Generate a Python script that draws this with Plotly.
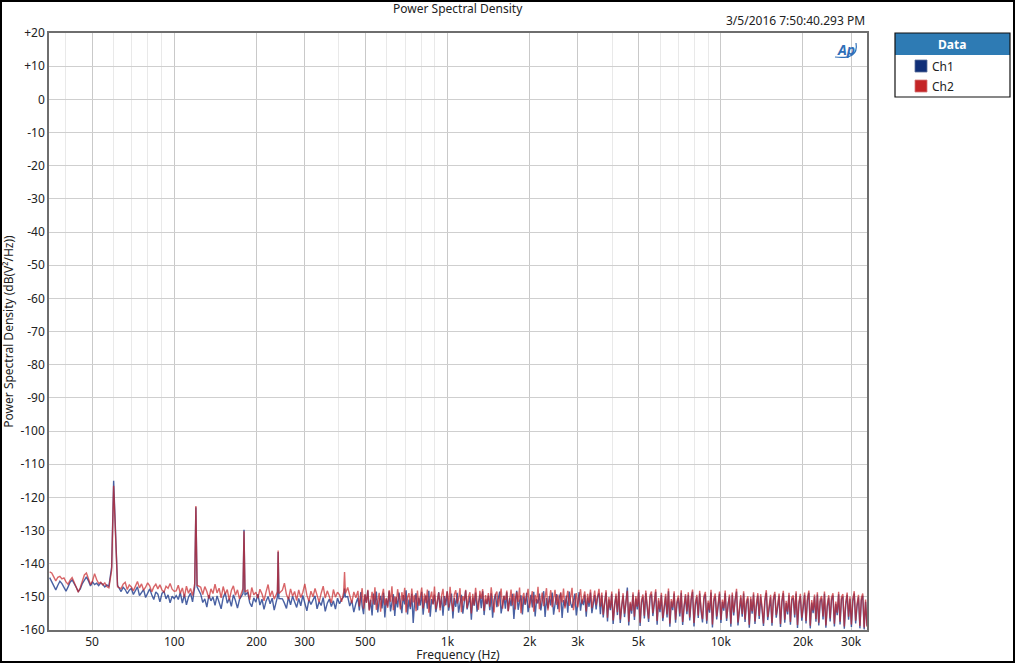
import numpy as np
import plotly.graph_objects as go

# ---------------- data ----------------
# sample grid: 2 px steps below ~470 Hz, denser above (as the trace gets denser)
f_start, f_split, f_stop = 35.0, 470.0, 34300.0
n_low, n_high = 151, 360

ch1_low = [
    # 35-58 Hz
    -144.2, -145.6, -146.8, -147.9, -146.5, -145.3, -146.0, -147.2, -148.3, -147.0,
    -145.6, -144.9, -145.8, -147.1, -148.4, -147.6, -146.0, -144.8, -144.0, -145.2,
    -146.7, -145.5, -146.3, -145.9, -146.6, -145.8, -146.2, -147.0, -146.4, -146.8,
    # 58-100 Hz
    -146.8, -147.2, -147.9, -147.0, -147.6, -148.4, -147.1, -147.8, -149.0, -148.0,
    -147.5, -149.3, -148.2, -147.0, -149.6, -148.6, -147.8, -150.2, -148.9, -147.6,
    -149.4, -150.8, -148.5, -149.2, -151.5, -149.0, -148.3, -150.6, -149.4, -151.8,
    -149.8, -150.5,
    # 100-470 Hz
    -149.6, -150.8, -148.7, -151.9, -149.3, -152.4, -150.1, -148.9, -151.5, -149.8,
    -152.8, -150.4, -149.2, -151.7, -150.6, -153.1, -149.5, -151.2, -150.0, -152.6,
    -149.7, -151.4, -153.6, -150.2, -148.8, -151.9, -150.5, -152.9, -149.4, -151.1,
    -153.4, -150.8, -149.6, -152.3, -150.9, -148.6, -151.8, -153.0, -150.3, -151.6,
    -149.2, -152.5, -150.7, -153.8, -151.3, -149.9, -152.1, -150.4, -154.0, -151.7,
    -149.5, -152.8, -150.6, -151.9, -153.5, -150.1, -152.4, -149.8, -151.5, -153.2,
    -150.5, -152.7, -149.6, -151.8, -154.2, -150.9, -152.3, -151.0, -149.7, -153.6,
    -151.4, -152.6, -150.2, -154.4, -151.9, -150.7, -152.9, -151.2, -153.7, -150.4,
    -152.1, -150.8, -153.9, -151.5, -149.9, -152.8, -151.1, -154.6, -152.0,
]

ch2_low = [
    # 35-58 Hz
    -142.5, -142.8, -144.0, -145.2, -144.1, -143.8, -144.6, -144.3, -145.5, -146.2,
    -145.0, -144.2, -145.6, -147.0, -148.6, -147.2, -145.0, -143.4, -142.8, -144.5,
    -146.3, -145.2, -143.0, -144.8, -146.0, -145.6, -146.4, -145.8, -146.9, -147.3,
    # 58-100 Hz
    -147.0, -146.5, -146.8, -147.2, -146.0, -147.5, -146.2, -145.6, -147.8, -146.4,
    -147.0, -148.2, -146.6, -145.4, -147.3, -146.1, -148.0, -147.1, -145.8, -146.7,
    -148.5, -147.0, -146.2, -147.6, -146.4, -147.9, -148.6, -146.8, -147.4, -146.0,
    -147.7, -148.3,
    # 100-470 Hz
    -148.2, -146.5, -149.0, -147.3, -150.1, -146.8, -148.9, -147.5, -149.6, -146.4,
    -148.7, -150.2, -147.1, -149.3, -146.9, -148.4, -150.5, -147.6, -149.0, -146.2,
    -148.8, -147.4, -150.3, -146.9, -149.2, -147.8, -151.0, -148.1, -146.7, -149.5,
    -147.9, -150.6, -148.3, -146.5, -149.8, -148.0, -150.9, -147.2, -149.4, -148.6,
    -150.4, -147.7, -149.1, -151.2, -148.5, -146.3, -149.9, -148.2, -150.7, -147.4,
    -149.6, -151.4, -148.0, -145.9, -149.3, -150.8, -147.6, -149.8, -148.4, -151.1,
    -147.9, -150.2, -148.7, -146.1, -149.5, -151.3, -148.3, -150.0, -147.5, -149.7,
    -151.6, -148.9, -146.8, -150.4, -148.2, -149.9, -151.8, -147.8, -150.1, -148.6,
    -149.4, -151.5, -148.1, -150.6, -147.2, -149.8, -151.9, -148.5, -150.3,
]

ch1_high = [
    # 470 Hz - 3.6 kHz
    -150.3, -154.1, -148.6, -152.8, -155.2, -149.4, -151.7, -148.1, -153.9, -150.9,
    -155.6, -149.0, -152.4, -148.4, -154.7, -151.3, -149.7, -153.5, -148.8, -156.2,
    -150.6, -152.9, -148.3, -154.4, -151.0, -149.2, -155.8, -150.1, -153.2, -148.7,
    -151.8, -154.9, -149.5, -152.3, -148.0, -155.3, -150.8, -153.7, -149.1, -157.9,
    -151.5, -148.9, -154.0, -150.2, -152.6, -148.5, -155.4, -151.2, -149.6, -153.6,
    -148.2, -156.0, -150.7, -152.1, -149.3, -154.6, -151.9, -148.6, -153.3, -150.0,
    -155.7, -149.8, -152.5, -148.4, -154.2, -151.1, -149.0, -156.5, -150.4, -153.0,
    -148.8, -154.8, -152.0, -149.4, -155.1, -150.6, -148.1, -153.8, -151.6, -149.9,
    -156.9, -150.2, -152.7, -148.7, -154.5, -151.4, -149.3, -153.4, -148.3, -155.5,
    -150.8, -152.2, -149.6, -154.0, -148.9, -156.3, -151.0, -149.2, -153.1, -150.5,
    -148.4, -155.0, -151.8, -149.7, -153.6, -148.6, -154.3, -150.3, -152.8, -149.1,
    -156.7, -150.9, -148.2, -153.9, -151.3, -149.5, -155.3, -150.0, -152.4, -148.8,
    -154.6, -151.5, -149.4, -153.2, -148.5, -155.9, -150.7, -152.0, -149.0, -154.1,
    -151.2, -148.3, -156.1, -150.4, -153.5, -149.8, -152.6, -148.7, -155.4, -151.7,
    -149.2, -153.7, -150.1, -148.9, -156.4, -151.0, -152.9, -149.6, -154.8, -148.4,
    -151.9, -153.3, -150.5, -149.0, -155.6, -151.4, -148.6, -154.2, -150.8, -152.5,
    -149.3, -156.0, -150.2, -153.0, -148.7, -154.9, -151.6, -149.5, -153.8, -150.0,
    -148.9, -155.2,
    # 3.6 kHz - 34 kHz
    -149.5, -156.2, -151.9, -148.7, -157.4, -150.8, -154.0, -149.1, -158.2, -152.3,
    -149.8, -155.5, -148.4, -157.9, -153.0, -149.6, -156.1, -151.2, -147.2, -158.6,
    -152.0, -155.1, -149.3, -157.0, -150.5, -153.8, -148.6, -158.8, -151.6, -150.0,
    -156.5, -148.9, -153.4, -157.6, -150.2, -149.2, -155.8, -151.8, -148.5, -158.4,
    -151.1, -154.6, -149.5, -157.3, -152.7, -149.9, -156.2, -148.3, -159.0, -151.4,
    -154.0, -149.0, -157.8, -152.1, -150.3, -155.9, -148.8, -158.5, -153.3, -149.7,
    -155.2, -149.4, -157.1, -151.0, -148.5, -158.9, -152.4, -150.1, -156.4, -149.0,
    -154.3, -157.7, -150.6, -149.2, -158.1, -151.8, -154.8, -148.7, -159.2, -151.3,
    -149.8, -156.8, -152.9, -149.1, -157.9, -151.5, -154.2, -148.9, -157.3, -152.2,
    -150.0, -159.0, -149.4, -155.6, -150.9, -148.4, -158.6, -153.6, -150.2, -156.0,
    -149.0, -157.6, -152.0, -150.5, -159.3, -150.7, -155.1, -149.3, -158.2, -152.8,
    -149.6, -156.7, -149.9, -153.9, -158.8, -151.4, -148.8, -157.0, -152.6, -150.1,
    -158.7, -151.0, -149.2, -156.3, -153.2, -149.7, -159.1, -151.6, -148.9, -157.8,
    -151.9, -155.3, -149.5, -158.4, -150.8, -150.3, -156.2, -149.0, -159.4, -152.2,
    -149.8, -157.2, -153.5, -149.4, -158.0, -151.1, -148.8, -159.5, -151.7, -154.9,
    -150.0, -157.5, -149.3, -158.6, -151.4, -150.5, -156.8, -149.1, -159.3, -153.0,
    -150.2, -157.4, -150.9, -149.6, -158.9, -152.1, -155.5, -149.2, -158.3, -150.7,
    -149.9, -159.6, -152.4, -149.4, -156.9, -150.6, -159.1, -151.3, -149.0, -158.0,
    -152.8, -150.1, -159.5, -151.0, -149.7, -159.8, -151.5, -158.7,
]

ch2_high = [
    # 470 Hz - 3.6 kHz
    -148.2, -152.9, -150.1, -147.4, -153.6, -149.2, -151.8, -147.9, -154.2, -150.6,
    -148.5, -152.3, -147.1, -153.9, -151.0, -148.8, -154.5, -149.7, -147.6, -152.6,
    -150.4, -153.3, -148.0, -151.5, -146.8, -154.0, -149.9, -152.1, -147.7, -150.9,
    -153.8, -148.6, -151.2, -147.3, -154.7, -150.2, -148.9, -153.1, -147.5, -151.7,
    -149.4, -154.3, -148.1, -152.7, -150.5, -147.2, -153.5, -149.0, -151.9, -147.8,
    -154.8, -150.3, -148.4, -152.4, -146.9, -153.7, -151.1, -148.7, -154.1, -149.6,
    -147.6, -152.8, -150.8, -148.3, -153.2, -147.0, -151.6, -154.4, -149.3, -148.0,
    -152.0, -150.7, -147.4, -154.6, -149.8, -151.3, -147.9, -153.4, -150.0, -148.6,
    -155.0, -149.1, -152.5, -147.3, -151.4, -153.9, -148.2, -150.6, -147.7, -154.2,
    -149.5, -152.2, -148.9, -153.0, -147.1, -151.8, -154.7, -149.2, -148.4, -152.9,
    -150.2, -147.5, -153.6, -149.7, -151.0, -148.1, -154.3, -150.9, -147.8, -152.6,
    -149.0, -153.8, -148.5, -151.5, -147.2, -154.9, -150.4, -148.8, -152.3, -149.9,
    -147.6, -153.3, -151.2, -148.3, -154.5, -149.4, -152.0, -147.0, -153.7, -150.7,
    -148.7, -152.8, -149.6, -147.4, -154.1, -151.4, -148.0, -153.1, -150.1, -147.9,
    -152.4, -149.3, -154.6, -148.6, -151.7, -147.5, -153.5, -150.5, -148.2, -152.7,
    -149.8, -147.3, -154.0, -151.1, -148.9, -153.2, -149.5, -147.7, -152.1, -150.3,
    -148.4, -154.4, -149.1, -151.9, -147.8, -153.4, -150.8, -148.1, -152.5, -149.7,
    -147.6, -153.0,
    # 3.6 kHz - 34 kHz
    -148.7, -155.4, -151.2, -148.0, -156.3, -150.1, -153.5, -148.4, -157.1, -151.8,
    -149.0, -154.6, -147.6, -156.8, -152.4, -148.9, -155.1, -150.6, -148.2, -157.5,
    -151.5, -154.2, -148.6, -156.0, -149.8, -153.0, -147.9, -157.8, -150.9, -149.3,
    -155.7, -148.1, -152.7, -156.6, -149.5, -148.4, -154.9, -151.0, -147.7, -157.3,
    -150.4, -153.8, -148.8, -156.4, -152.1, -149.1, -155.3, -147.5, -158.0, -150.7,
    -153.2, -148.3, -156.9, -151.4, -149.6, -155.0, -148.0, -157.6, -152.6, -149.2,
    -154.4, -148.6, -156.2, -150.3, -147.8, -157.9, -151.7, -149.4, -155.6, -148.2,
    -153.6, -156.7, -149.9, -148.5, -157.2, -151.1, -154.0, -147.9, -158.3, -150.5,
    -149.0, -155.9, -152.2, -148.4, -157.0, -150.8, -153.4, -148.1, -156.5, -151.6,
    -149.3, -158.1, -148.7, -154.7, -150.2, -147.6, -157.7, -152.9, -149.5, -155.2,
    -148.3, -156.8, -151.3, -149.8, -158.4, -150.0, -154.3, -148.6, -157.4, -152.0,
    -148.9, -155.8, -149.2, -153.1, -158.0, -150.6, -148.0, -156.1, -151.9, -149.4,
    -157.9, -150.3, -148.5, -155.5, -152.5, -149.0, -158.2, -150.9, -148.2, -156.9,
    -151.2, -154.5, -148.8, -157.6, -150.1, -149.6, -155.4, -148.3, -158.5, -151.5,
    -149.1, -156.3, -152.8, -148.7, -157.3, -150.4, -148.1, -158.7, -151.0, -154.1,
    -149.3, -156.7, -148.6, -157.8, -150.7, -149.8, -155.9, -148.4, -158.6, -152.3,
    -149.5, -156.5, -150.2, -148.9, -158.1, -151.4, -154.8, -148.5, -157.5, -150.0,
    -149.2, -158.9, -151.7, -148.7, -156.0, -149.9, -158.3, -150.6, -148.3, -157.2,
    -152.1, -149.4, -158.8, -150.3, -149.0, -159.2, -150.8, -159.0,
]

# mains hum harmonics (frequency in Hz, level in dB)
peak_freq = [59.0, 60.0, 61.0, 62.0, 118.8, 120.0, 121.2, 178.5, 180.0, 181.5,
             238.5, 240.0, 241.5, 417.0, 420.0, 423.0]
peak_ch1 = [-141.0, -115.0, -131.0, -146.5, -147.0, -123.0, -147.0, -149.0, -129.8, -149.5,
            -150.0, -136.5, -150.5, -150.0, -147.5, -150.0]
peak_ch2 = [-142.0, -116.5, -133.0, -147.0, -146.0, -122.6, -146.5, -147.5, -130.2, -148.5,
            -148.5, -136.0, -149.0, -148.5, -142.5, -149.0]

x_tick_vals = [50, 100, 200, 300, 500, 1000, 2000, 3000, 5000, 10000, 20000, 30000]
x_tick_text = ["50", "100", "200", "300", "500", "1k", "2k", "3k", "5k", "10k", "20k", "30k"]
x_minor_vals = [40, 60, 70, 80, 90, 400, 600, 700, 800, 900,
                4000, 6000, 7000, 8000, 9000]
y_tick_vals = list(range(-160, 21, 10))
y_tick_text = [("+%d" % v) if v > 0 else str(v) for v in y_tick_vals]

# ---------------- assemble series ----------------
grid = np.concatenate([np.geomspace(f_start, f_split, n_low, endpoint=False),
                       np.geomspace(f_split, f_stop, n_high)])
ch1_floor = np.array(ch1_low + ch1_high)
ch2_floor = np.array(ch2_low + ch2_high)
pf = np.array(peak_freq)
keep = np.array([np.min(np.abs(np.log10(g / pf))) > 0.006 for g in grid])
freq = np.concatenate([grid[keep], pf])
y1 = np.concatenate([ch1_floor[keep], np.array(peak_ch1)])
y2 = np.concatenate([ch2_floor[keep], np.array(peak_ch2)])
order = np.argsort(freq)
freq, y1, y2 = freq[order], y1[order], y2[order]

FONT = "Noto Sans"
fig = go.Figure()
fig.add_trace(go.Scatter(x=freq, y=y1, mode="lines", name="Ch1",
                         line=dict(color="rgba(28,58,140,0.8)", width=1.4)))
fig.add_trace(go.Scatter(x=freq, y=y2, mode="lines", name="Ch2",
                         line=dict(color="rgba(200,35,40,0.7)", width=1.4)))

L, R, T, B = 49, 148, 33, 33
W, H = 1015, 663
pw, ph = W - L - R, H - T - B


def px(x):
    return (x - L) / pw


def py(y):
    return (H - B - y) / ph


fig.update_layout(
    width=W, height=H, autosize=False,
    margin=dict(l=L, r=R, t=T, b=B, pad=0),
    paper_bgcolor="white", plot_bgcolor="white",
    showlegend=False,
    font=dict(family=FONT, size=12, color="#222222"),
    xaxis=dict(
        type="log", range=[np.log10(34.8), np.log10(34300)],
        tickmode="array", tickvals=x_tick_vals, ticktext=x_tick_text,
        showgrid=True, gridcolor="#c9c9c9", gridwidth=1,
        showline=True, linecolor="#6e6e6e", linewidth=1.5, mirror=True,
        ticks="", zeroline=False, automargin=False,
        tickfont=dict(size=12, color="#222222"),
        title=dict(text="Frequency (Hz)", font=dict(size=12, color="#222222"), standoff=0),
        minor=dict(tickmode="array", tickvals=x_minor_vals, showgrid=True,
                   gridcolor="#e9e9e9", gridwidth=1, ticks=""),
    ),
    yaxis=dict(
        range=[-160, 20], tickmode="array", tickvals=y_tick_vals, ticktext=y_tick_text,
        showgrid=True, gridcolor="#cfcfcf", gridwidth=1,
        showline=True, linecolor="#6e6e6e", linewidth=1.5, mirror=True,
        ticks="", zeroline=False, automargin=False,
        tickfont=dict(size=12, color="#222222"),
        title=dict(text="Power Spectral Density (dB(V²/Hz))",
                   font=dict(size=12, color="#222222"), standoff=4),
    ),
)

annotations = [
    dict(text="Power Spectral Density", x=0.5, y=py(8), xref="paper", yref="paper",
         xanchor="center", yanchor="middle", showarrow=False, font=dict(size=12)),
    dict(text="3/5/2016 7:50:40.293 PM", x=1.0, y=py(21), xref="paper", yref="paper",
         xanchor="right", yanchor="middle", showarrow=False, font=dict(size=12)),
    dict(text="<b><i>Ap</i></b>", x=px(846), y=py(49), xref="paper", yref="paper",
         xanchor="center", yanchor="middle", showarrow=False,
         font=dict(size=14, color="#2f6fb8")),
    dict(text="<b>Data</b>", x=px(952), y=py(44), xref="paper", yref="paper",
         xanchor="center", yanchor="middle", showarrow=False,
         font=dict(size=12, color="white")),
    dict(text="Ch1", x=px(930), y=py(66), xref="paper", yref="paper",
         xanchor="left", yanchor="middle", showarrow=False, font=dict(size=12)),
    dict(text="Ch2", x=px(930), y=py(86), xref="paper", yref="paper",
         xanchor="left", yanchor="middle", showarrow=False, font=dict(size=12)),
]

shapes = [
    # outer frame
    dict(type="rect", xref="paper", yref="paper", x0=px(1), x1=px(1014), y0=py(662), y1=py(1),
         line=dict(color="black", width=2), fillcolor="rgba(0,0,0,0)"),
    # legend header
    dict(type="rect", xref="paper", yref="paper", x0=px(895), x1=px(1010), y0=py(55), y1=py(33),
         line=dict(width=0), fillcolor="#2e7bb4"),
    # legend frame
    dict(type="rect", xref="paper", yref="paper", x0=px(895), x1=px(1010), y0=py(97), y1=py(33),
         line=dict(color="#111111", width=1.2), fillcolor="rgba(0,0,0,0)"),
    # swatches
    dict(type="rect", xref="paper", yref="paper", x0=px(915), x1=px(927), y0=py(72), y1=py(60),
         line=dict(color="#5a6f9a", width=0.8), fillcolor="#102f78"),
    dict(type="rect", xref="paper", yref="paper", x0=px(915), x1=px(927), y0=py(92), y1=py(80),
         line=dict(color="#d67a7a", width=0.8), fillcolor="#c42426"),
    # logo swoosh
    dict(type="path", xref="paper", yref="paper",
         path="M %f %f Q %f %f %f %f" % (px(835), py(57), px(859), py(60), px(856), py(43)),
         line=dict(color="#2f6fb8", width=1.2)),
]

fig.update_layout(annotations=annotations, shapes=shapes)
fig.write_html("out.html",
               config={"displayModeBar": False},
               post_script="document.body.style.margin='0px';"
                           "document.body.style.overflow='hidden';")
